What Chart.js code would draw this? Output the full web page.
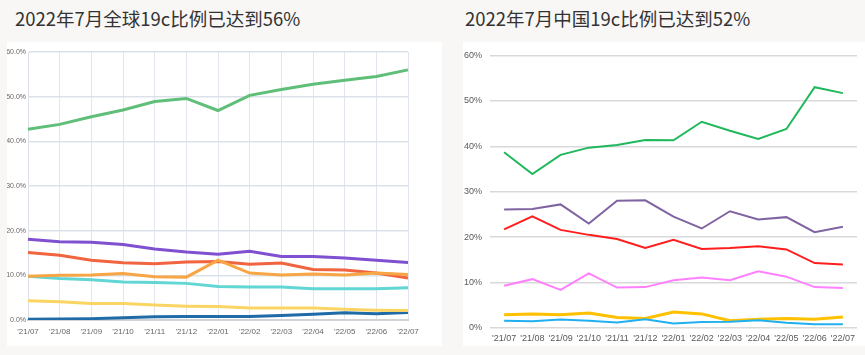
<!DOCTYPE html>
<html>
<head>
<meta charset="utf-8">
<script src="https://cdn.jsdelivr.net/npm/chart.js@4/dist/chart.umd.min.js"></script>
<style>
  html, body { margin:0; padding:0; }
  body { width:865px; height:355px; background:#f8f7f5; position:relative; overflow:hidden; font-family:"Noto Sans CJK SC","Noto Sans",sans-serif; }
  .title { position:absolute; top:4px; font-size:18.5px; color:#333; white-space:nowrap; line-height:28px; }
  .panel { position:absolute; background:#fff; }
  canvas { display:block; }
</style>
</head>
<body>
<div class="title" style="left:15px">2022年7月全球19c比例已达到56%</div>
<div class="title" style="left:465px">2022年7月中国19c比例已达到52%</div>
<div class="panel" style="left:7px;top:42px;width:435px;height:304px"><canvas id="c1" width="435" height="304"></canvas></div>
<div class="panel" style="left:463px;top:42px;width:402px;height:304px"><canvas id="c2" width="402" height="304"></canvas></div>
<script>
// Categories (months)
const months = ["'21/07","'21/08","'21/09","'21/10","'21/11","'21/12","'22/01","'22/02","'22/03","'22/04","'22/05","'22/06","'22/07"];
const yTicks = [0,10,20,30,40,50,60];

// Global (left chart) series, percent
const globalGreen  = [42.7,43.8,45.5,47.0,48.9,49.6,46.9,50.3,51.6,52.8,53.7,54.5,56.0];
const globalPurple = [18.1,17.5,17.4,16.9,15.9,15.2,14.7,15.4,14.2,14.2,13.9,13.4,12.9];
const globalRed    = [15.1,14.5,13.4,12.8,12.6,13.0,13.1,12.5,12.75,11.3,11.2,10.5,9.4];
const globalOrange = [9.8,10.0,10.1,10.4,9.7,9.6,13.4,10.5,10.1,10.3,10.1,10.5,10.2];
const globalCyan   = [9.8,9.3,9.0,8.5,8.4,8.2,7.5,7.4,7.4,7.0,7.0,7.0,7.2];
const globalYellow = [4.3,4.1,3.7,3.7,3.35,3.1,3.0,2.7,2.7,2.7,2.4,2.2,2.1];
const globalBlue   = [0.15,0.2,0.3,0.5,0.7,0.8,0.8,0.8,1.0,1.3,1.6,1.4,1.7];

// China (right chart) series, percent
const chinaGreen  = [38.7,33.9,38.1,39.7,40.3,41.4,41.3,45.4,43.4,41.6,43.8,53.0,51.7];
const chinaPurple = [26.1,26.2,27.2,23.0,28.0,28.1,24.5,21.9,25.7,23.9,24.4,21.1,22.3];
const chinaRed    = [21.7,24.6,21.6,20.5,19.6,17.6,19.4,17.4,17.6,18.0,17.3,14.3,14.0];
const chinaPink   = [9.3,10.75,8.4,12.0,8.9,9.0,10.5,11.1,10.5,12.5,11.3,9.0,8.8];
const chinaYellow = [2.9,3.1,2.9,3.3,2.3,2.1,3.5,3.1,1.6,1.9,2.1,1.9,2.4];
const chinaBlue   = [1.6,1.5,1.85,1.6,1.2,1.9,1.0,1.3,1.4,1.7,1.15,0.85,0.8];

function ds(data, color, width) {
  return { data, borderColor: color, backgroundColor: color, borderWidth: width, pointRadius: 0, tension: 0, fill: false };
}

// Left chart
new Chart(document.getElementById('c1'), {
  type: 'line',
  data: {
    labels: months,
    datasets: [
      ds(globalGreen,  '#5fbf78', 3),
      ds(globalOrange, '#f7a545', 3),
      ds(globalPurple, '#7f50d0', 3),
      ds(globalRed,    '#f06540', 3),
      ds(globalCyan,   '#62d6d4', 3),
      ds(globalYellow, '#fbd563', 3),
      ds(globalBlue,   '#1f6ba8', 3)
    ]
  },
  options: {
    responsive: false, animation: false,
    layout: { padding: { left: 0, right: 34, top: 10, bottom: 0 } },
    plugins: { legend: { display: false }, tooltip: { enabled: false } },
    scales: {
      x: {
        offset: false,
        grid: { color: '#e1e6ee', lineWidth: 1, drawTicks: false },
        border: { color: '#cfd2d6', width: 2 },
        ticks: { color: '#666', font: { family: 'Liberation Sans Narrow, Liberation Sans', size: 8 }, padding: 7, maxRotation: 0, autoSkip: false },
        afterFit: s => { s.height = 26; }
      },
      y: {
        min: 0, max: 60,
        afterBuildTicks: s => { s.ticks = yTicks.map(v => ({ value: v })); },
        grid: { color: '#dce1e9', lineWidth: 1.5, drawTicks: false },
        border: { color: '#dce1e9', width: 1 },
        ticks: { color: '#666', font: { family: 'Liberation Sans Narrow, Liberation Sans', size: 7 }, padding: 2, callback: v => v.toFixed(1) + '%' },
        afterFit: s => { s.width = 21; }
      }
    }
  }
});

// Right chart
new Chart(document.getElementById('c2'), {
  type: 'line',
  data: {
    labels: months,
    datasets: [
      ds(chinaGreen,  '#1fb85c', 2),
      ds(chinaPurple, '#8064a2', 2),
      ds(chinaRed,    '#ff1e1e', 2),
      ds(chinaPink,   '#ff80ff', 2),
      ds(chinaBlue,   '#20b0ef', 2),
      ds(chinaYellow, '#ffc000', 3)
    ]
  },
  options: {
    responsive: false, animation: false,
    layout: { padding: { left: 0, right: 8, top: 7, bottom: 0 } },
    plugins: { legend: { display: false }, tooltip: { enabled: false } },
    scales: {
      x: {
        offset: true,
        grid: { display: false, drawTicks: false },
        border: { display: false },
        ticks: { color: '#595959', font: { family: 'Liberation Sans, Arial', size: 9 }, padding: 5, maxRotation: 0, autoSkip: false },
        afterFit: s => { s.height = 18; }
      },
      y: {
        min: 0, max: 60,
        afterBuildTicks: s => { s.ticks = yTicks.map(v => ({ value: v })); },
        grid: { color: '#d9d9d9', lineWidth: 1.5, drawTicks: false },
        border: { display: false },
        ticks: { color: '#595959', font: { family: 'Liberation Sans, Arial', size: 9 }, padding: 8, callback: v => v + '%' },
        afterFit: s => { s.width = 27; }
      }
    }
  }
});
</script>
</body>
</html>
